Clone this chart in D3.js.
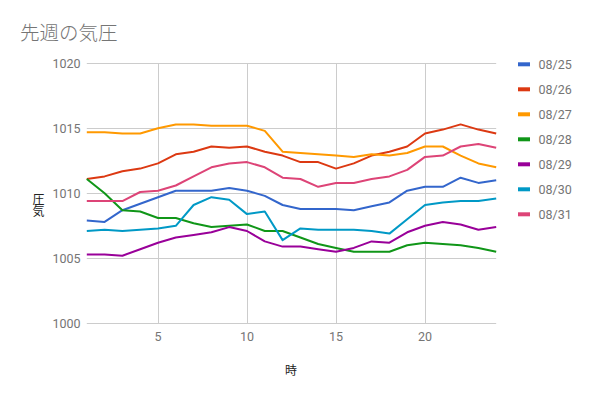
<!DOCTYPE html>
<html><head><meta charset="utf-8">
<script src="https://cdn.jsdelivr.net/npm/d3@7"></script>
<style>body{margin:0;background:#fff}svg{display:block}</style>
</head><body>
<svg id="c" width="591" height="397"></svg>
<script>
const hours = d3.range(1, 25);
const seriesNames = ["08/25","08/26","08/27","08/28","08/29","08/30","08/31"];
const colors = ["#3366cc","#dc3912","#ff9900","#109618","#990099","#0099c6","#dd4477"];
const s0825 = [1007.9,1007.8,1008.7,1009.2,1009.7,1010.2,1010.2,1010.2,1010.4,1010.2,1009.8,1009.1,1008.8,1008.8,1008.8,1008.7,1009.0,1009.3,1010.2,1010.5,1010.5,1011.2,1010.8,1011.0];
const s0826 = [1011.1,1011.3,1011.7,1011.9,1012.3,1013.0,1013.2,1013.6,1013.5,1013.6,1013.2,1012.9,1012.4,1012.4,1011.9,1012.3,1012.9,1013.2,1013.6,1014.6,1014.9,1015.3,1014.9,1014.6];
const s0827 = [1014.7,1014.7,1014.6,1014.6,1015.0,1015.3,1015.3,1015.2,1015.2,1015.2,1014.8,1013.2,1013.1,1013.0,1012.9,1012.8,1013.0,1012.9,1013.1,1013.6,1013.6,1012.9,1012.3,1012.0];
const s0828 = [1011.1,1010.0,1008.7,1008.6,1008.1,1008.1,1007.7,1007.4,1007.5,1007.6,1007.1,1007.1,1006.6,1006.1,1005.8,1005.5,1005.5,1005.5,1006.0,1006.2,1006.1,1006.0,1005.8,1005.5];
const s0829 = [1005.3,1005.3,1005.2,1005.7,1006.2,1006.6,1006.8,1007.0,1007.4,1007.1,1006.3,1005.9,1005.9,1005.7,1005.5,1005.8,1006.3,1006.2,1007.0,1007.5,1007.8,1007.6,1007.2,1007.4];
const s0830 = [1007.1,1007.2,1007.1,1007.2,1007.3,1007.5,1009.1,1009.7,1009.5,1008.4,1008.6,1006.4,1007.3,1007.2,1007.2,1007.2,1007.1,1006.9,1008.0,1009.1,1009.3,1009.4,1009.4,1009.6];
const s0831 = [1009.4,1009.4,1009.4,1010.1,1010.2,1010.6,1011.3,1012.0,1012.3,1012.4,1012.0,1011.2,1011.1,1010.5,1010.8,1010.8,1011.1,1011.3,1011.8,1012.8,1012.9,1013.6,1013.8,1013.5];
const allSeries = [s0825,s0826,s0827,s0828,s0829,s0830,s0831];
const yTicks = [1000,1005,1010,1015,1020];
const xTicks = [5,10,15,20];
const titleText = "先週の気圧";
const xTitle = "時";
const yTitle = "気圧";

const svg = d3.select("#c");
const x = d3.scaleLinear().domain([1,24]).range([86.8,496.2]);
const y = d3.scaleLinear().domain([1000,1020]).range([323.3,63.3]);

const grid = svg.append("g");
grid.selectAll("line.h").data(yTicks).join("line")
  .attr("x1", x(1)).attr("x2", x(24))
  .attr("y1", d => Math.round(y(d))+0.5).attr("y2", d => Math.round(y(d))+0.5)
  .attr("stroke", "#cccccc").attr("stroke-width", 1);
grid.selectAll("line.v").data(xTicks).join("line")
  .attr("x1", d => Math.round(x(d))+0.5).attr("x2", d => Math.round(x(d))+0.5)
  .attr("y1", y(1020)).attr("y2", y(1000))
  .attr("stroke", "#cccccc").attr("stroke-width", 1);

const font = "Roboto, 'Noto Sans CJK JP', sans-serif";
svg.append("g").selectAll("text").data(yTicks).join("text")
  .attr("x", 80.5).attr("y", d => y(d)+4.5)
  .attr("text-anchor","end").attr("font-family",font).attr("font-size",12.5)
  .attr("fill","#757575").text(d => d);
svg.append("g").selectAll("text").data(xTicks).join("text")
  .attr("x", d => x(d)).attr("y", 341)
  .attr("text-anchor","middle").attr("font-family",font).attr("font-size",12.5)
  .attr("fill","#757575").text(d => d);

const line = d3.line().x((d,i) => x(hours[i])).y(d => y(d));
svg.append("g").selectAll("path").data(allSeries).join("path")
  .attr("d", d => line(d)).attr("fill","none")
  .attr("stroke", (d,i) => colors[i]).attr("stroke-width", 2)
  .attr("stroke-linejoin","round");

svg.append("text").attr("x",20).attr("y",39.5)
  .attr("font-family","'Noto Sans CJK JP', sans-serif").attr("font-size",19.5)
  .attr("font-weight",300)
  .attr("fill","#757575").text(titleText);

svg.append("text").attr("x",291).attr("y",374.5).attr("text-anchor","middle")
  .attr("font-family","'Noto Sans CJK JP', sans-serif").attr("font-size",12)
  .attr("fill","#222").text(xTitle);

svg.append("text")
  .attr("transform","translate(32.5,205) rotate(-90)")
  .attr("x",-11).attr("y",0)
  .attr("rotate","90")
  .attr("font-family","'Noto Sans CJK JP', sans-serif").attr("font-size",12)
  .attr("fill","#222").text(yTitle);

const leg = svg.append("g").selectAll("g").data(seriesNames).join("g")
  .attr("transform",(d,i) => `translate(518,${64.3+i*25})`);
leg.append("rect").attr("x",0).attr("y",-2).attr("width",12).attr("height",4)
  .attr("fill",(d,i) => colors[i]);
leg.append("text").attr("x",20.5).attr("y",4.5)
  .attr("font-family",font).attr("font-size",12.5)
  .attr("fill","#757575").text(d => d);
</script>
</body></html>
